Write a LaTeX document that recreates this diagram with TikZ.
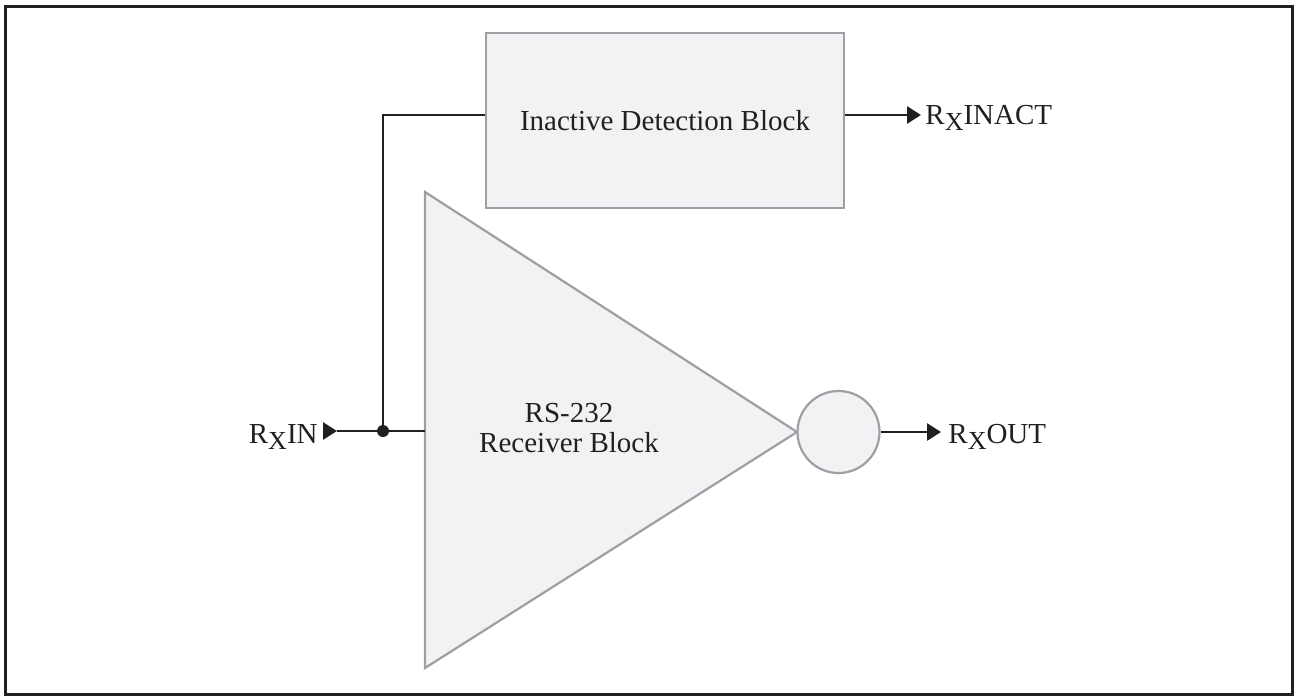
\documentclass[tikz,border=0pt]{standalone}
\usepackage{fontspec}
\setmainfont{Liberation Serif}
\usetikzlibrary{arrows.meta,positioning}
\definecolor{blockfill}{HTML}{F1F2F4}
\definecolor{blockedge}{HTML}{9D9FA2}
\definecolor{wirecol}{HTML}{231F20}
\newcommand{\rxsig}[1]{R\raisebox{-3pt}{\fontsize{13}{13}\selectfont X}#1}

\begin{document}
\begin{tikzpicture}[x=0.5pt,y=-0.5pt,>={Triangle[length=7pt,width=8.5pt]},
    wire/.style={draw=wirecol,line width=1.4pt},
    block node/.style={draw=blockedge,fill=blockfill,line width=1.1pt},
    label node/.style={inner sep=0pt,font=\fontsize{14.5}{15}\selectfont,text=wirecol}]

            \useasboundingbox (0,0) rectangle (1294,696);
            \draw[draw=wirecol,line width=1.5pt] (5.5,6) rectangle (1292,694.5);

            \node[block node, rectangle, minimum width=179pt, minimum height=87.5pt] (detect) at (665,120.5) {};
            \node[label node] at (detect.center) {Inactive Detection Block};

            \coordinate (top) at (425,192);
            \coordinate (bot) at (425,668);
            \coordinate (apex) at (797,432);
            \draw[block node, line join=miter] (top) -- (bot) -- (apex) -- cycle;
            \node[label node, align=center] (rcv) at (569,428) {RS-232\\Receiver Block};

            \node[block node, circle, minimum size=41pt, inner sep=0pt] (bubble) at (838.5,432) {};

            \node[label node, anchor=base east] (rxin) at (318,443) {\rxsig{IN}};
            \node[label node, anchor=base west] (rxinact) at (925,124) {\rxsig{INACT}};
            \node[label node, anchor=base west] (rxout) at (948,443) {\rxsig{OUT}};

            \coordinate (intip) at (337,431);
            \coordinate (join) at (383,431);
            \coordinate (rcvin) at (425,431);
            \coordinate (corner) at (383,115);
            \coordinate (inacttip) at (921,115);
            \coordinate (outtip) at (941,432);

            \draw[wire,->] (323,431) -- (intip);
            \draw[wire] (intip) -- (rcvin);
            \draw[wire] (join) -- (corner) -- (corner -| detect.west);
            \fill[wirecol] (join) circle (3pt);
            \draw[wire,->] (inacttip -| detect.east) -- (inacttip);
            \draw[wire,->] (bubble.east) -- (outtip);
                    \end{tikzpicture}
\end{document}
